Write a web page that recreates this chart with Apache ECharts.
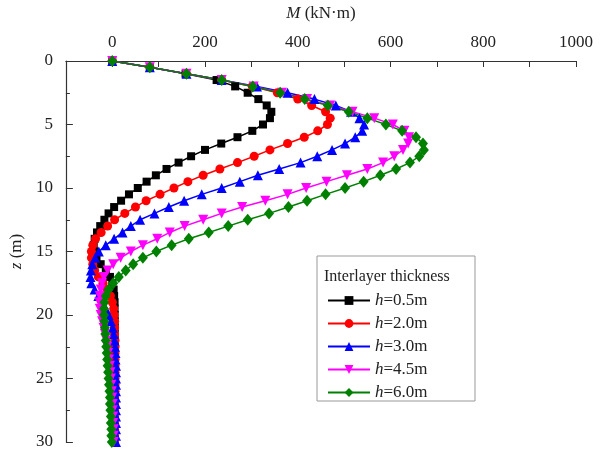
<!DOCTYPE html>
<html>
<head>
<meta charset="utf-8">
<script src="https://cdn.jsdelivr.net/npm/echarts@6/dist/echarts.min.js"></script>
<style>
  html, body { margin: 0; padding: 0; background: #fff; }
  #chart { width: 601px; height: 453px; }
</style>
</head>
<body>
<div id="chart"></div>
<script>
// depth along the pile, m
const depthZ = [0,0.5,1,1.5,2,2.5,3,3.5,4,4.5,5,5.5,6,6.5,7,7.5,8,8.5,9,9.5,
  10,10.5,11,11.5,12,12.5,13,13.5,14,14.5,15,15.5,16,16.5,17,17.5,18,18.5,19,19.5,
  20,20.5,21,21.5,22,22.5,23,23.5,24,24.5,25,25.5,26,26.5,27,27.5,28,28.5,29,29.5,30];

// bending moment M (kN·m) for each interlayer thickness
const momentH05 = [0,81,158,225,265,292,315,333,343,340, 325,302,270,235,200,170,143,117,94,74,
  55,36,19,4,-8,-17,-26,-33,-38,-40, -39,-34,-25,-14,-5,0,3,4,5,5,
  5,5,5,5,5,5,5,5,5,5, 5,5,5,5,5,5,4,4,4,4, 4];
const momentH20 = [0,81,160,236,302,356,400,430,460,470, 464,443,414,378,340,306,270,232,196,163,
  133,103,73,50,27,5,-10,-24,-36,-42, -45,-45,-42,-38,-30,-20,-11,-4,0,3,
  4,5,5,5,6,6,6,6,6,6, 6,6,6,5,5,5,5,5,5,5, 5];
const momentH30 = [0,81,160,236,312,378,436,482,515,533, 543,539,524,502,474,442,406,360,314,275,
  236,193,155,122,91,60,40,22,4,-14, -29,-37,-43,-46,-47,-45,-38,-30,-22,-14,
  -8,-3,1,3,5,6,7,7,8,8, 8,8,8,8,8,8,8,8,8,8, 8];
const momentH45 = [0,81,160,236,305,366,420,470,518,565, 605,630,640,638,627,608,584,550,506,462,
  418,378,330,280,236,196,156,124,97,66, 40,18,2,-10,-18,-22,-25,-27,-28,-27,
  -25,-22,-19,-16,-13,-11,-9,-7,-5,-4, -3,-2,-1,0,1,1,2,2,3,3, 3];
const momentH60 = [0,81,160,236,303,362,415,465,510,550, 590,625,655,670,672,662,642,612,578,542,
  502,460,420,380,338,292,250,208,165,128, 95,66,45,29,14,2,-8,-14,-17,-18,
  -18,-17,-16,-15,-14,-13,-12,-11,-10,-9, -8,-7,-6,-5,-5,-4,-3,-3,-2,-2, -1];

const seriesNames = ["h=0.5m", "h=2.0m", "h=3.0m", "h=4.5m", "h=6.0m"];
const xTickLabels = [0, 200, 400, 600, 800, 1000];

const serif = "Liberation Serif";
const axisColor = "#333";

function pairs(m) {
  return m.map((v, i) => [v, depthZ[i]]);
}

function lineSeries(name, data, color, symbol, size, rotate) {
  return {
    name: name,
    type: "line",
    data: pairs(data),
    symbol: symbol,
    symbolSize: size,
    symbolRotate: rotate || 0,
    showAllSymbol: true,
    lineStyle: { color: color, width: 1.5 },
    itemStyle: { color: color },
  };
}

let chart = echarts.init(document.getElementById("chart"));
let option = {
  animation: false,
  grid: { left: 59, right: 25, top: 53, bottom: 11 },
  xAxis: {
    type: "value",
    position: "top",
    min: -100,
    max: 1000,
    interval: 100,
    name: "{i|M} (kN·m)",
    nameLocation: "middle",
    nameGap: 39,
    nameTextStyle: {
      fontFamily: serif,
      fontSize: 17,
      color: "#222",
      rich: { i: { fontFamily: serif, fontSize: 17, fontStyle: "italic", color: "#222" } },
    },
    axisLine: { onZero: false, lineStyle: { color: axisColor, width: 1.2 } },
    axisTick: { inside: true, length: 6, lineStyle: { color: axisColor } },
    axisLabel: {
      margin: 10,
      fontFamily: serif,
      fontSize: 17,
      color: "#222",
      formatter: (v) => (xTickLabels.indexOf(v) >= 0 ? String(v) : ""),
    },
    splitLine: { show: false },
  },
  yAxis: {
    type: "value",
    inverse: true,
    min: 0,
    max: 30,
    interval: 5,
    name: "{i|z} (m)",
    nameLocation: "middle",
    nameRotate: 90,
    nameGap: 40,
    nameTextStyle: {
      fontFamily: serif,
      fontSize: 17,
      color: "#222",
      rich: { i: { fontFamily: serif, fontSize: 17, fontStyle: "italic", color: "#222" } },
    },
    axisLine: { show: true, onZero: false, lineStyle: { color: axisColor, width: 1.2 } },
    axisTick: { inside: true, length: 7, lineStyle: { color: axisColor } },
    minorTick: { show: true, splitNumber: 2, length: 4, lineStyle: { color: axisColor } },
    axisLabel: { margin: 13, fontFamily: serif, fontSize: 17, color: "#222" },
    splitLine: { show: false },
  },
  legend: {
    data: seriesNames,
    orient: "vertical",
    left: 322,
    top: 287,
    itemWidth: 42,
    itemHeight: 11,
    itemGap: 6,
    formatter: (name) => "{i|h}" + name.slice(1),
    textStyle: {
      fontFamily: serif,
      fontSize: 17,
      color: "#222",
      rich: { i: { fontFamily: serif, fontSize: 17, fontStyle: "italic", color: "#222" } },
    },
  },
  graphic: [
    {
      type: "rect",
      z: 3,
      shape: { x: 317, y: 256, width: 158, height: 145 },
      style: { fill: "#fff", stroke: "#999", lineWidth: 1 },
    },
    {
      type: "text",
      z: 4,
      left: 324,
      top: 269,
      style: { text: "Interlayer thickness", font: "16px 'Liberation Serif'", fill: "#222" },
    },
  ],
  series: [
    lineSeries(seriesNames[0], momentH05, "#000000", "rect", 8),
    lineSeries(seriesNames[1], momentH20, "#ff0000", "circle", 9),
    lineSeries(seriesNames[2], momentH30, "#0000ff", "triangle", 10),
    lineSeries(seriesNames[3], momentH45, "#ff00ff", "triangle", 10, 180),
    lineSeries(seriesNames[4], momentH60, "#008000", "diamond", [10, 12]),
  ],
};
chart.setOption(option);
</script>
</body>
</html>
